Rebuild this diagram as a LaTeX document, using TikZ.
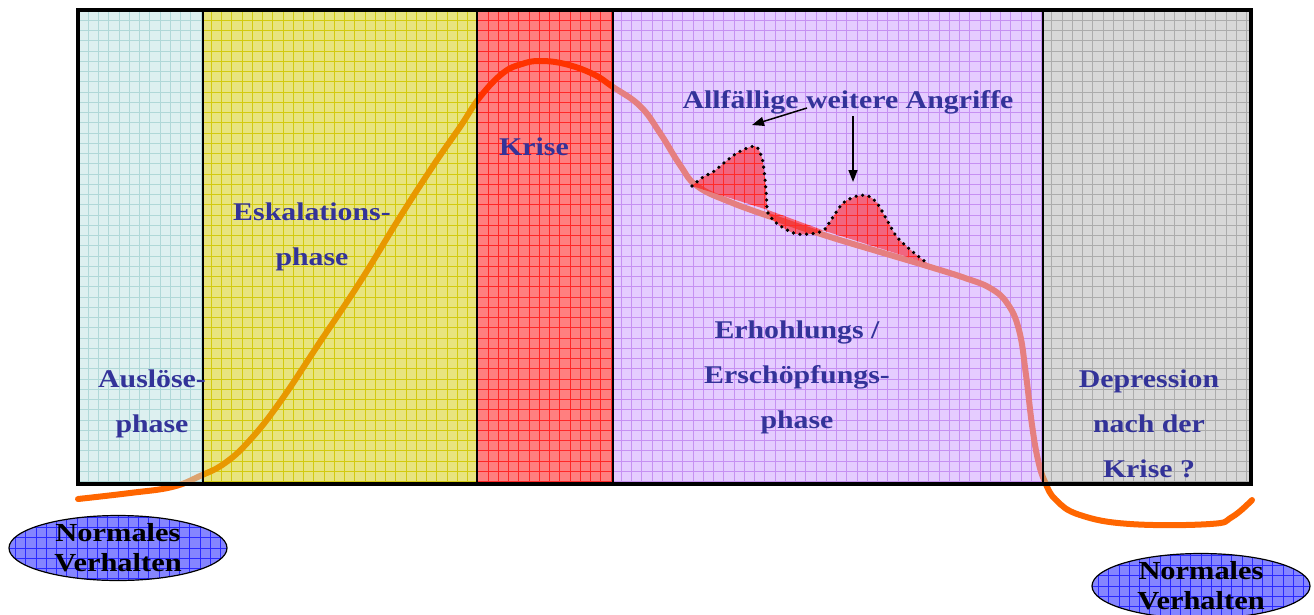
\documentclass[tikz,border=0pt]{standalone}
\usepackage{fontspec}
\setmainfont{Liberation Serif}
\newfontfamily\lblfont[FakeStretch=1.17]{Liberation Serif}
\usetikzlibrary{shapes.geometric,arrows.meta}
\definecolor{curveC}{HTML}{FF6600}
\definecolor{cyF}{HTML}{BBE1E1}
\definecolor{cyG}{HTML}{A5CFCF}
\definecolor{yeF}{HTML}{D2CA00}
\definecolor{yeG}{HTML}{D6CA20}
\definecolor{reF}{HTML}{FF0000}
\definecolor{reG}{HTML}{FF5050}
\definecolor{rpG}{HTML}{FF2A2A}
\definecolor{laF}{HTML}{CC99FF}
\definecolor{laG}{HTML}{C087E5}
\definecolor{grF}{HTML}{B1B1B1}
\definecolor{grG}{HTML}{A7A7A7}
\definecolor{txtC}{HTML}{333399}
\definecolor{elF}{HTML}{8585FF}
\definecolor{elG}{HTML}{2A2AFF}
\begin{document}
\begin{tikzpicture}[x=1pt,y=-1pt,
  lbl/.style={font=\lblfont\bfseries\fontsize{25.5}{45}\selectfont, text=txtC, align=center, inner sep=0pt, anchor=base},
  eltext/.style={font=\lblfont\bfseries\fontsize{26}{30}\selectfont, text=black, align=center, inner sep=0pt},
  ellbox/.style={ellipse, draw=black, line width=1.2pt, fill=elF, minimum width=218pt, minimum height=65pt, inner sep=0pt,
    path picture={
      \foreach \k in {-11,...,11}{
        \draw[elG, line width=0.8pt] ([xshift=\k*10.25pt]path picture bounding box.north) -- ([xshift=\k*10.25pt]path picture bounding box.south);}
      \foreach \k in {-3,...,3}{
        \draw[elG, line width=0.8pt] ([yshift=\k*10.25pt]path picture bounding box.west) -- ([yshift=\k*10.25pt]path picture bounding box.east);}
    }},
  arr/.style={black, line width=1.5pt, -{Triangle[length=12pt,width=9pt]}},
  dots/.style={black, line width=3.6pt, line cap=round, dash pattern=on 0pt off 6.6pt},
  gridln/.style={line width=0.8pt}
]
\useasboundingbox (0,0) rectangle (1314,614);

% grid lines of the panels (under the curve)
\foreach \a/\b/\g in {78/203/cyG,203/477/yeG,477/613/reG,613/1043/laG,1043/1251/grG}{
  \begin{scope}
    \clip (\a,10) rectangle (\b,484);
    \foreach \k in {1,...,114} \draw[draw=\g, gridln] ({78+\k*10.25},10) -- ++(0,474);
    \foreach \k in {1,...,46} \draw[draw=\g, gridln] (78,{10+\k*10.25}) -- ++(1173,0);
  \end{scope}
}

% main curve (under the panel tints)
\draw[curveC, line width=6pt, line cap=round] plot[smooth, tension=0.7] coordinates {
 (78,499) (130,493) (172,487) (200,476) (225,463) (250,440) (280,402) (320,342) (360,282) (400,217) (435,163) (460,127) (480,97) (503,73) (522,64) (540,61) (565,64) (593,74) (613,87) (640,106) (660,133) (680,165) (697,186) (730,202) (780,220) (827,236) (880,252) (927,266) (965,278) (990,288) (1007,303) (1019,330) (1026,375) (1032,425) (1038,460) (1045,482) (1056,500) (1080,515) (1130,524) (1210,524) (1232,517) (1252,500)};

% panel tints
\foreach \a/\b/\f in {78/203/cyF,203/477/yeF,477/613/reF,613/1043/laF,1043/1251/grF}{
  \fill[fill=\f, fill opacity=0.5] (\a,10) rectangle (\b,484);
}

% attack peaks
\fill[reF, fill opacity=0.5] plot[smooth, tension=0.5] coordinates {
 (692,186) (703,177) (713,172) (725,162) (737,153) (750,147) (757,147) (762,158) (764,170) (766,190) (767,207) (768,213) (775,222) (787,230) (797,234) (810,234) (820,232) (825,229) (833,217) (843,203) (857,196) (868,196) (877,203) (887,220) (897,237) (913,252) (927,263)} -- (825,231) -- (768,210) -- cycle;
\begin{scope}
  \clip plot[smooth, tension=0.5] coordinates {
 (692,186) (703,177) (713,172) (725,162) (737,153) (750,147) (757,147) (762,158) (764,170) (766,190) (767,207) (768,213) (775,222) (787,230) (797,234) (810,234) (820,232) (825,229) (833,217) (843,203) (857,196) (868,196) (877,203) (887,220) (897,237) (913,252) (927,263)} -- (825,231) -- (768,210) -- cycle;
  \foreach \k in {60,...,84} \draw[rpG, gridln] ({78+\k*10.25},10) -- ++(0,474);
  \foreach \k in {12,...,26} \draw[rpG, gridln] (78,{10+\k*10.25}) -- ++(1173,0);
\end{scope}
\draw[dots] plot[smooth, tension=0.5] coordinates {
 (692,186) (703,177) (713,172) (725,162) (737,153) (750,147) (757,147) (762,158) (764,170) (766,190) (767,207) (768,213) (775,222) (787,230) (797,234) (810,234) (820,232) (825,229) (833,217) (843,203) (857,196) (868,196) (877,203) (887,220) (897,237) (913,252) (927,263)};

% frame
\foreach \x in {203,477,613,1043} \draw[black, line width=2pt] (\x,10) -- (\x,484);
\draw[black, line width=4pt] (78,10) rectangle (1251,484);

% labels (anchor base = last line)
\node[lbl] (aus) at (152,432) {Auslöse-\\phase};
\node[lbl] (esk) at (312,265) {Eskalations-\\phase};
\node[lbl] (kri) at (534,155) {Krise};
\node[lbl] (erh) at (797,428) {Erhohlungs /\\Erschöpfungs-\\phase};
\node[lbl] (dep) at (1149,477) {Depression\\nach der\\Krise ?};
\node[lbl] (ang) at (848,108) {Allfällige weitere Angriffe};

% arrows
\coordinate (a1s) at (807,108);
\coordinate (a1e) at (752,125);
\coordinate (a2s) at (853,116);
\coordinate (a2e) at (853,182);
\draw[arr] (a1s) -- (a1e);
\draw[arr] (a2s) -- (a2e);

% ellipses
\node[ellbox] (e1) at (118,548) {};
\node[eltext] (t1) at (e1) {Normales\\Verhalten};
\node[ellbox] (e2) at (1201,586) {};
\node[eltext] (t2) at (e2) {Normales\\Verhalten};
\end{tikzpicture}
\end{document}
